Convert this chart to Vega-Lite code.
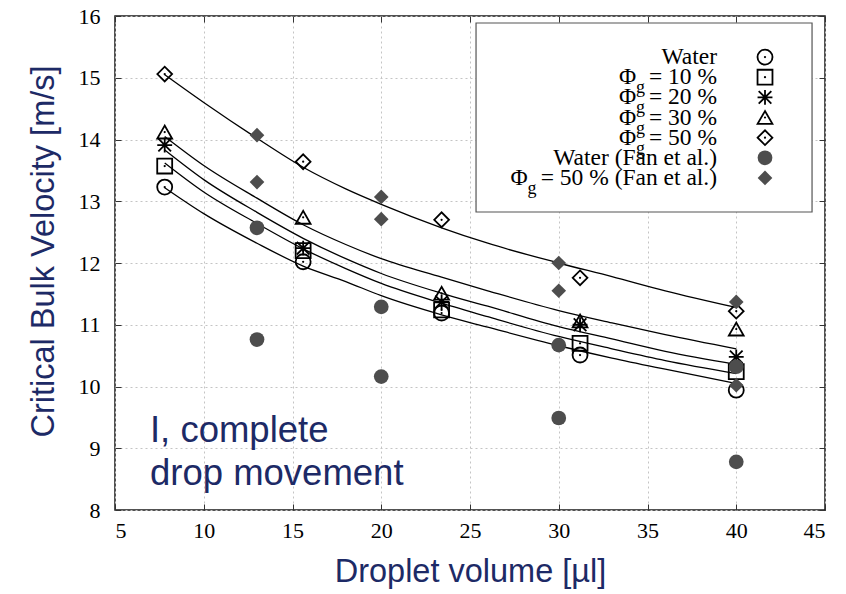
{
  "$schema": "https://vega.github.io/schema/vega-lite/v6.json",
  "width": 710,
  "height": 494,
  "autosize": {"type": "none"},
  "padding": {"left": 115, "top": 16, "right": 21, "bottom": 84},
  "background": "white",
  "config": {
    "view": {"stroke": "#1a1a1a", "strokeWidth": 1.5},
    "axis": {
      "titleFontWeight": "normal",
      "domain": false,
      "gridColor": "#c4c4c4",
      "gridDash": [2, 3],
      "gridWidth": 1
    }
  },
  "datasets": {
    "fits": [
      {"series": "Water", "volume": 7.8, "velocity": 13.22},
      {"series": "Water", "volume": 10, "velocity": 12.80},
      {"series": "Water", "volume": 13, "velocity": 12.32},
      {"series": "Water", "volume": 15.6, "velocity": 11.95},
      {"series": "Water", "volume": 18, "velocity": 11.70},
      {"series": "Water", "volume": 20, "velocity": 11.47},
      {"series": "Water", "volume": 23.4, "velocity": 11.16},
      {"series": "Water", "volume": 26, "velocity": 10.96},
      {"series": "Water", "volume": 30, "velocity": 10.66},
      {"series": "Water", "volume": 33, "velocity": 10.46},
      {"series": "Water", "volume": 36, "velocity": 10.28},
      {"series": "Water", "volume": 40, "velocity": 10.05},
      {"series": "Φg = 10 %", "volume": 7.8, "velocity": 13.62},
      {"series": "Φg = 10 %", "volume": 10, "velocity": 13.15},
      {"series": "Φg = 10 %", "volume": 13, "velocity": 12.64},
      {"series": "Φg = 10 %", "volume": 15.6, "velocity": 12.23},
      {"series": "Φg = 10 %", "volume": 18, "velocity": 11.91},
      {"series": "Φg = 10 %", "volume": 20, "velocity": 11.67},
      {"series": "Φg = 10 %", "volume": 23.4, "velocity": 11.35},
      {"series": "Φg = 10 %", "volume": 26, "velocity": 11.13},
      {"series": "Φg = 10 %", "volume": 30, "velocity": 10.81},
      {"series": "Φg = 10 %", "volume": 33, "velocity": 10.61},
      {"series": "Φg = 10 %", "volume": 36, "velocity": 10.42},
      {"series": "Φg = 10 %", "volume": 40, "velocity": 10.21},
      {"series": "Φg = 20 %", "volume": 7.8, "velocity": 13.83},
      {"series": "Φg = 20 %", "volume": 10, "velocity": 13.35},
      {"series": "Φg = 20 %", "volume": 13, "velocity": 12.82},
      {"series": "Φg = 20 %", "volume": 15.6, "velocity": 12.40},
      {"series": "Φg = 20 %", "volume": 18, "velocity": 12.07},
      {"series": "Φg = 20 %", "volume": 20, "velocity": 11.83},
      {"series": "Φg = 20 %", "volume": 23.4, "velocity": 11.51},
      {"series": "Φg = 20 %", "volume": 26, "velocity": 11.30},
      {"series": "Φg = 20 %", "volume": 30, "velocity": 10.97},
      {"series": "Φg = 20 %", "volume": 33, "velocity": 10.77},
      {"series": "Φg = 20 %", "volume": 36, "velocity": 10.57},
      {"series": "Φg = 20 %", "volume": 40, "velocity": 10.36},
      {"series": "Φg = 30 %", "volume": 7.8, "velocity": 14.05},
      {"series": "Φg = 30 %", "volume": 10, "velocity": 13.58},
      {"series": "Φg = 30 %", "volume": 13, "velocity": 13.05},
      {"series": "Φg = 30 %", "volume": 15.6, "velocity": 12.62},
      {"series": "Φg = 30 %", "volume": 18, "velocity": 12.30},
      {"series": "Φg = 30 %", "volume": 20, "velocity": 12.07},
      {"series": "Φg = 30 %", "volume": 23.4, "velocity": 11.77},
      {"series": "Φg = 30 %", "volume": 26, "velocity": 11.55},
      {"series": "Φg = 30 %", "volume": 30, "velocity": 11.23},
      {"series": "Φg = 30 %", "volume": 33, "velocity": 11.03},
      {"series": "Φg = 30 %", "volume": 36, "velocity": 10.84},
      {"series": "Φg = 30 %", "volume": 40, "velocity": 10.61},
      {"series": "Φg = 50 %", "volume": 7.8, "velocity": 15.05},
      {"series": "Φg = 50 %", "volume": 10, "velocity": 14.60},
      {"series": "Φg = 50 %", "volume": 13, "velocity": 14.02},
      {"series": "Φg = 50 %", "volume": 15.6, "velocity": 13.55},
      {"series": "Φg = 50 %", "volume": 18, "velocity": 13.20},
      {"series": "Φg = 50 %", "volume": 20, "velocity": 12.95},
      {"series": "Φg = 50 %", "volume": 23.4, "velocity": 12.57},
      {"series": "Φg = 50 %", "volume": 26, "velocity": 12.32},
      {"series": "Φg = 50 %", "volume": 30, "velocity": 12.00},
      {"series": "Φg = 50 %", "volume": 33, "velocity": 11.78},
      {"series": "Φg = 50 %", "volume": 36, "velocity": 11.55},
      {"series": "Φg = 50 %", "volume": 40, "velocity": 11.28}
    ],
    "measured": [
      {"series": "Water", "source": "this work", "volume": 7.8, "velocity": 13.23},
      {"series": "Water", "source": "this work", "volume": 15.6, "velocity": 12.02},
      {"series": "Water", "source": "this work", "volume": 23.4, "velocity": 11.19},
      {"series": "Water", "source": "this work", "volume": 31.2, "velocity": 10.51},
      {"series": "Water", "source": "this work", "volume": 40.0, "velocity": 9.94},
      {"series": "Φg = 10 %", "source": "this work", "volume": 7.8, "velocity": 13.57},
      {"series": "Φg = 10 %", "source": "this work", "volume": 15.6, "velocity": 12.20},
      {"series": "Φg = 10 %", "source": "this work", "volume": 23.4, "velocity": 11.24},
      {"series": "Φg = 10 %", "source": "this work", "volume": 31.2, "velocity": 10.70},
      {"series": "Φg = 10 %", "source": "this work", "volume": 40.0, "velocity": 10.24},
      {"series": "Φg = 20 %", "source": "this work", "volume": 7.8, "velocity": 13.91},
      {"series": "Φg = 20 %", "source": "this work", "volume": 15.6, "velocity": 12.24},
      {"series": "Φg = 20 %", "source": "this work", "volume": 23.4, "velocity": 11.37},
      {"series": "Φg = 20 %", "source": "this work", "volume": 31.2, "velocity": 11.00},
      {"series": "Φg = 20 %", "source": "this work", "volume": 40.0, "velocity": 10.48},
      {"series": "Φg = 30 %", "source": "this work", "volume": 7.8, "velocity": 14.12},
      {"series": "Φg = 30 %", "source": "this work", "volume": 15.6, "velocity": 12.74},
      {"series": "Φg = 30 %", "source": "this work", "volume": 23.4, "velocity": 11.51},
      {"series": "Φg = 30 %", "source": "this work", "volume": 31.2, "velocity": 11.06},
      {"series": "Φg = 30 %", "source": "this work", "volume": 40.0, "velocity": 10.93},
      {"series": "Φg = 50 %", "source": "this work", "volume": 7.8, "velocity": 15.06},
      {"series": "Φg = 50 %", "source": "this work", "volume": 15.6, "velocity": 13.64},
      {"series": "Φg = 50 %", "source": "this work", "volume": 23.4, "velocity": 12.70},
      {"series": "Φg = 50 %", "source": "this work", "volume": 31.2, "velocity": 11.76},
      {"series": "Φg = 50 %", "source": "this work", "volume": 40.0, "velocity": 11.22},
      {"series": "Water (Fan et al.)", "source": "Fan et al.", "volume": 13.0, "velocity": 12.57},
      {"series": "Water (Fan et al.)", "source": "Fan et al.", "volume": 13.0, "velocity": 10.76},
      {"series": "Water (Fan et al.)", "source": "Fan et al.", "volume": 20.0, "velocity": 11.29},
      {"series": "Water (Fan et al.)", "source": "Fan et al.", "volume": 20.0, "velocity": 10.16},
      {"series": "Water (Fan et al.)", "source": "Fan et al.", "volume": 30.0, "velocity": 10.67},
      {"series": "Water (Fan et al.)", "source": "Fan et al.", "volume": 30.0, "velocity": 9.49},
      {"series": "Water (Fan et al.)", "source": "Fan et al.", "volume": 40.0, "velocity": 10.32},
      {"series": "Water (Fan et al.)", "source": "Fan et al.", "volume": 40.0, "velocity": 8.78},
      {"series": "Φg = 50 % (Fan et al.)", "source": "Fan et al.", "volume": 13.0, "velocity": 14.07},
      {"series": "Φg = 50 % (Fan et al.)", "source": "Fan et al.", "volume": 13.0, "velocity": 13.31},
      {"series": "Φg = 50 % (Fan et al.)", "source": "Fan et al.", "volume": 20.0, "velocity": 13.07},
      {"series": "Φg = 50 % (Fan et al.)", "source": "Fan et al.", "volume": 20.0, "velocity": 12.71},
      {"series": "Φg = 50 % (Fan et al.)", "source": "Fan et al.", "volume": 30.0, "velocity": 12.00},
      {"series": "Φg = 50 % (Fan et al.)", "source": "Fan et al.", "volume": 30.0, "velocity": 11.55},
      {"series": "Φg = 50 % (Fan et al.)", "source": "Fan et al.", "volume": 40.0, "velocity": 11.37},
      {"series": "Φg = 50 % (Fan et al.)", "source": "Fan et al.", "volume": 40.0, "velocity": 10.02}
    ],
    "legend": [
      {"series": "Water", "source": "this work", "head": "", "sub": "", "rest": "Water"},
      {"series": "Φg = 10 %", "source": "this work", "head": "Φ", "sub": "g", "rest": "= 10 %"},
      {"series": "Φg = 20 %", "source": "this work", "head": "Φ", "sub": "g", "rest": "= 20 %"},
      {"series": "Φg = 30 %", "source": "this work", "head": "Φ", "sub": "g", "rest": "= 30 %"},
      {"series": "Φg = 50 %", "source": "this work", "head": "Φ", "sub": "g", "rest": "= 50 %"},
      {"series": "Water (Fan et al.)", "source": "Fan et al.", "head": "", "sub": "", "rest": "Water (Fan et al.)"},
      {"series": "Φg = 50 % (Fan et al.)", "source": "Fan et al.", "head": "Φ", "sub": "g", "rest": "= 50 % (Fan et al.)"}
    ],
    "notes": [
      {"note": "I, complete\ndrop movement"}
    ]
  },
  "layer": [
    {
      "layer": [
        {
          "data": {"name": "fits"},
          "mark": {"type": "line", "color": "black", "strokeWidth": 1.3, "interpolate": "monotone"},
          "encoding": {
            "x": {
              "field": "volume", "type": "quantitative",
              "scale": {"domain": [5, 45], "nice": false, "zero": false},
              "axis": {"orient": "bottom", "values": [5, 10, 15, 20, 25, 30, 35, 40, 45], "format": "d", "title": "Droplet volume [µl]", "grid": true, "labelFont": "Times New Roman", "labelFontSize": 22, "labelColor": "black", "labelPadding": 16, "titleFont": "Liberation Sans", "titleFontSize": 32.5, "titleColor": "#1d2a66", "titlePadding": 14, "tickSize": -6, "tickColor": "#333333", "tickWidth": 1}
            },
            "y": {
              "field": "velocity", "type": "quantitative",
              "scale": {"domain": [8, 16], "nice": false, "zero": false},
              "axis": {"orient": "left", "values": [8, 9, 10, 11, 12, 13, 14, 15, 16], "format": "d", "title": "Critical Bulk Velocity [m/s]", "grid": true, "labelFont": "Times New Roman", "labelFontSize": 22, "labelColor": "black", "labelPadding": 21, "titleFont": "Liberation Sans", "titleFontSize": 32.5, "titleColor": "#1d2a66", "titlePadding": 18, "titleY": 235, "tickSize": -6, "tickColor": "#333333", "tickWidth": 1}
            },
            "detail": {"field": "series", "type": "nominal"}
          }
        },
        {
          "data": {"name": "notes"},
          "mark": {"type": "rect", "fill": "white", "stroke": "#555555", "strokeWidth": 1.2},
          "encoding": {
            "x": {"datum": 25.34, "type": "quantitative"},
            "x2": {"datum": 44.27},
            "y": {"datum": 15.887, "type": "quantitative"},
            "y2": {"datum": 12.826}
          }
        },
        {
          "data": {"name": "measured"},
          "transform": [{"filter": "datum.source == 'this work'"}],
          "mark": {"type": "point", "filled": false, "stroke": "black", "strokeWidth": 1.8, "opacity": 1},
          "encoding": {
            "x": {"field": "volume", "type": "quantitative"},
            "y": {"field": "velocity", "type": "quantitative"},
            "shape": {
              "field": "series", "type": "nominal", "legend": null,
              "scale": {
                "domain": ["Water", "Φg = 10 %", "Φg = 20 %", "Φg = 30 %", "Φg = 50 %", "Water (Fan et al.)", "Φg = 50 % (Fan et al.)"],
                "range": ["circle", "square", "M-1,0L1,0M0,-1L0,1M-0.85,-0.85L0.85,0.85M-0.85,0.85L0.85,-0.85", "triangle-up", "diamond", "circle", "diamond"]
              }
            },
            "size": {
              "field": "series", "type": "ordinal", "legend": null,
              "scale": {
                "domain": ["Water", "Φg = 10 %", "Φg = 20 %", "Φg = 30 %", "Φg = 50 %", "Water (Fan et al.)", "Φg = 50 % (Fan et al.)"],
                "range": [225, 215, 240, 340, 340, 256, 330]
              }
            }
          }
        },
        {
          "data": {"name": "measured"},
          "transform": [{"filter": "datum.source == 'this work'"}],
          "mark": {"type": "circle", "color": "black", "size": 5, "opacity": 1},
          "encoding": {
            "x": {"field": "volume", "type": "quantitative"},
            "y": {"field": "velocity", "type": "quantitative"}
          }
        },
        {
          "data": {"name": "measured"},
          "transform": [{"filter": "datum.source == 'Fan et al.'"}],
          "mark": {"type": "point", "filled": true, "color": "#4d4d4d", "opacity": 1},
          "encoding": {
            "x": {"field": "volume", "type": "quantitative"},
            "y": {"field": "velocity", "type": "quantitative"},
            "shape": {
              "field": "series", "type": "nominal", "legend": null,
              "scale": {
                "domain": ["Water", "Φg = 10 %", "Φg = 20 %", "Φg = 30 %", "Φg = 50 %", "Water (Fan et al.)", "Φg = 50 % (Fan et al.)"],
                "range": ["circle", "square", "M-1,0L1,0M0,-1L0,1M-0.85,-0.85L0.85,0.85M-0.85,0.85L0.85,-0.85", "triangle-up", "diamond", "circle", "diamond"]
              }
            },
            "size": {
              "field": "series", "type": "ordinal", "legend": null,
              "scale": {
                "domain": ["Water", "Φg = 10 %", "Φg = 20 %", "Φg = 30 %", "Φg = 50 %", "Water (Fan et al.)", "Φg = 50 % (Fan et al.)"],
                "range": [225, 215, 240, 340, 340, 256, 330]
              }
            }
          }
        },
        {
          "data": {"name": "notes"},
          "mark": {"type": "text", "align": "left", "baseline": "alphabetic", "font": "Liberation Sans", "fontSize": 36.5, "lineHeight": 43, "lineBreak": "\n", "color": "#1d2a66"},
          "encoding": {
            "x": {"datum": 6.97, "type": "quantitative"},
            "y": {"datum": 9.10, "type": "quantitative"},
            "text": {"field": "note"}
          }
        }
      ]
    },
    {
      "data": {"name": "legend"},
      "encoding": {
        "x": {"datum": 38.92, "type": "quantitative", "axis": {"orient": "top", "values": [5, 10, 15, 20, 25, 30, 35, 40, 45], "labels": false, "grid": false, "title": null, "tickSize": -6, "tickColor": "#333333", "tickWidth": 1}},
        "y": {
          "field": "series", "type": "nominal", "axis": null,
          "scale": {
            "type": "point",
            "domain": ["Water", "Φg = 10 %", "Φg = 20 %", "Φg = 30 %", "Φg = 50 %", "Water (Fan et al.)", "Φg = 50 % (Fan et al.)"],
            "range": [31, 172]
          }
        }
      },
      "layer": [
        {
          "mark": {"type": "text", "align": "right", "baseline": "alphabetic", "dy": 7, "font": "Liberation Serif", "fontSize": 23.5, "color": "black"},
          "encoding": {
            "text": {"field": "rest"}
          }
        },
        {
          "transform": [{"filter": "datum.head != '' && datum.source == 'this work'"}],
          "mark": {"type": "text", "align": "right", "baseline": "alphabetic", "dx": -81, "dy": 7, "font": "Liberation Serif", "fontSize": 23.5, "color": "black"},
          "encoding": {
            "text": {"field": "head"}
          }
        },
        {
          "transform": [{"filter": "datum.head != '' && datum.source == 'this work'"}],
          "mark": {"type": "text", "align": "right", "baseline": "alphabetic", "dx": -72, "dy": 16, "font": "Liberation Serif", "fontSize": 18, "color": "black"},
          "encoding": {
            "text": {"field": "sub"}
          }
        },
        {
          "transform": [{"filter": "datum.head != '' && datum.source == 'Fan et al.'"}],
          "mark": {"type": "text", "align": "right", "baseline": "alphabetic", "dx": -189.5, "dy": 7, "font": "Liberation Serif", "fontSize": 23.5, "color": "black"},
          "encoding": {
            "text": {"field": "head"}
          }
        },
        {
          "transform": [{"filter": "datum.head != '' && datum.source == 'Fan et al.'"}],
          "mark": {"type": "text", "align": "right", "baseline": "alphabetic", "dx": -180.5, "dy": 16, "font": "Liberation Serif", "fontSize": 18, "color": "black"},
          "encoding": {
            "text": {"field": "sub"}
          }
        },
        {
          "transform": [{"filter": "datum.source == 'this work'"}],
          "mark": {"type": "point", "filled": false, "stroke": "black", "strokeWidth": 1.8, "opacity": 1},
          "encoding": {
            "x": {"datum": 41.62, "type": "quantitative"},
            "shape": {
              "field": "series", "type": "nominal", "legend": null,
              "scale": {
                "domain": ["Water", "Φg = 10 %", "Φg = 20 %", "Φg = 30 %", "Φg = 50 %", "Water (Fan et al.)", "Φg = 50 % (Fan et al.)"],
                "range": ["circle", "square", "M-1,0L1,0M0,-1L0,1M-0.85,-0.85L0.85,0.85M-0.85,0.85L0.85,-0.85", "triangle-up", "diamond", "circle", "diamond"]
              }
            },
            "size": {
              "field": "series", "type": "ordinal", "legend": null,
              "scale": {
                "domain": ["Water", "Φg = 10 %", "Φg = 20 %", "Φg = 30 %", "Φg = 50 %", "Water (Fan et al.)", "Φg = 50 % (Fan et al.)"],
                "range": [225, 215, 240, 340, 340, 256, 330]
              }
            }
          }
        },
        {
          "transform": [{"filter": "datum.source == 'this work'"}],
          "mark": {"type": "circle", "color": "black", "size": 5, "opacity": 1},
          "encoding": {
            "x": {"datum": 41.62, "type": "quantitative"}
          }
        },
        {
          "transform": [{"filter": "datum.source == 'Fan et al.'"}],
          "mark": {"type": "point", "filled": true, "color": "#4d4d4d", "opacity": 1},
          "encoding": {
            "x": {"datum": 41.62, "type": "quantitative"},
            "shape": {
              "field": "series", "type": "nominal", "legend": null,
              "scale": {
                "domain": ["Water", "Φg = 10 %", "Φg = 20 %", "Φg = 30 %", "Φg = 50 %", "Water (Fan et al.)", "Φg = 50 % (Fan et al.)"],
                "range": ["circle", "square", "M-1,0L1,0M0,-1L0,1M-0.85,-0.85L0.85,0.85M-0.85,0.85L0.85,-0.85", "triangle-up", "diamond", "circle", "diamond"]
              }
            },
            "size": {
              "field": "series", "type": "ordinal", "legend": null,
              "scale": {
                "domain": ["Water", "Φg = 10 %", "Φg = 20 %", "Φg = 30 %", "Φg = 50 %", "Water (Fan et al.)", "Φg = 50 % (Fan et al.)"],
                "range": [225, 215, 240, 340, 340, 256, 330]
              }
            }
          }
        }
      ]
    },
    {
      "data": {"name": "notes"},
      "mark": {"type": "point", "opacity": 0},
      "encoding": {
        "y": {
          "datum": 12, "type": "quantitative",
          "scale": {"domain": [8, 16], "nice": false, "zero": false},
          "axis": {"orient": "right", "values": [8, 9, 10, 11, 12, 13, 14, 15, 16], "labels": false, "grid": false, "title": null, "tickSize": -6, "tickColor": "#333333", "tickWidth": 1}
        }
      }
    }
  ],
  "resolve": {"scale": {"y": "independent"}, "axis": {"x": "independent", "y": "independent"}}
}
